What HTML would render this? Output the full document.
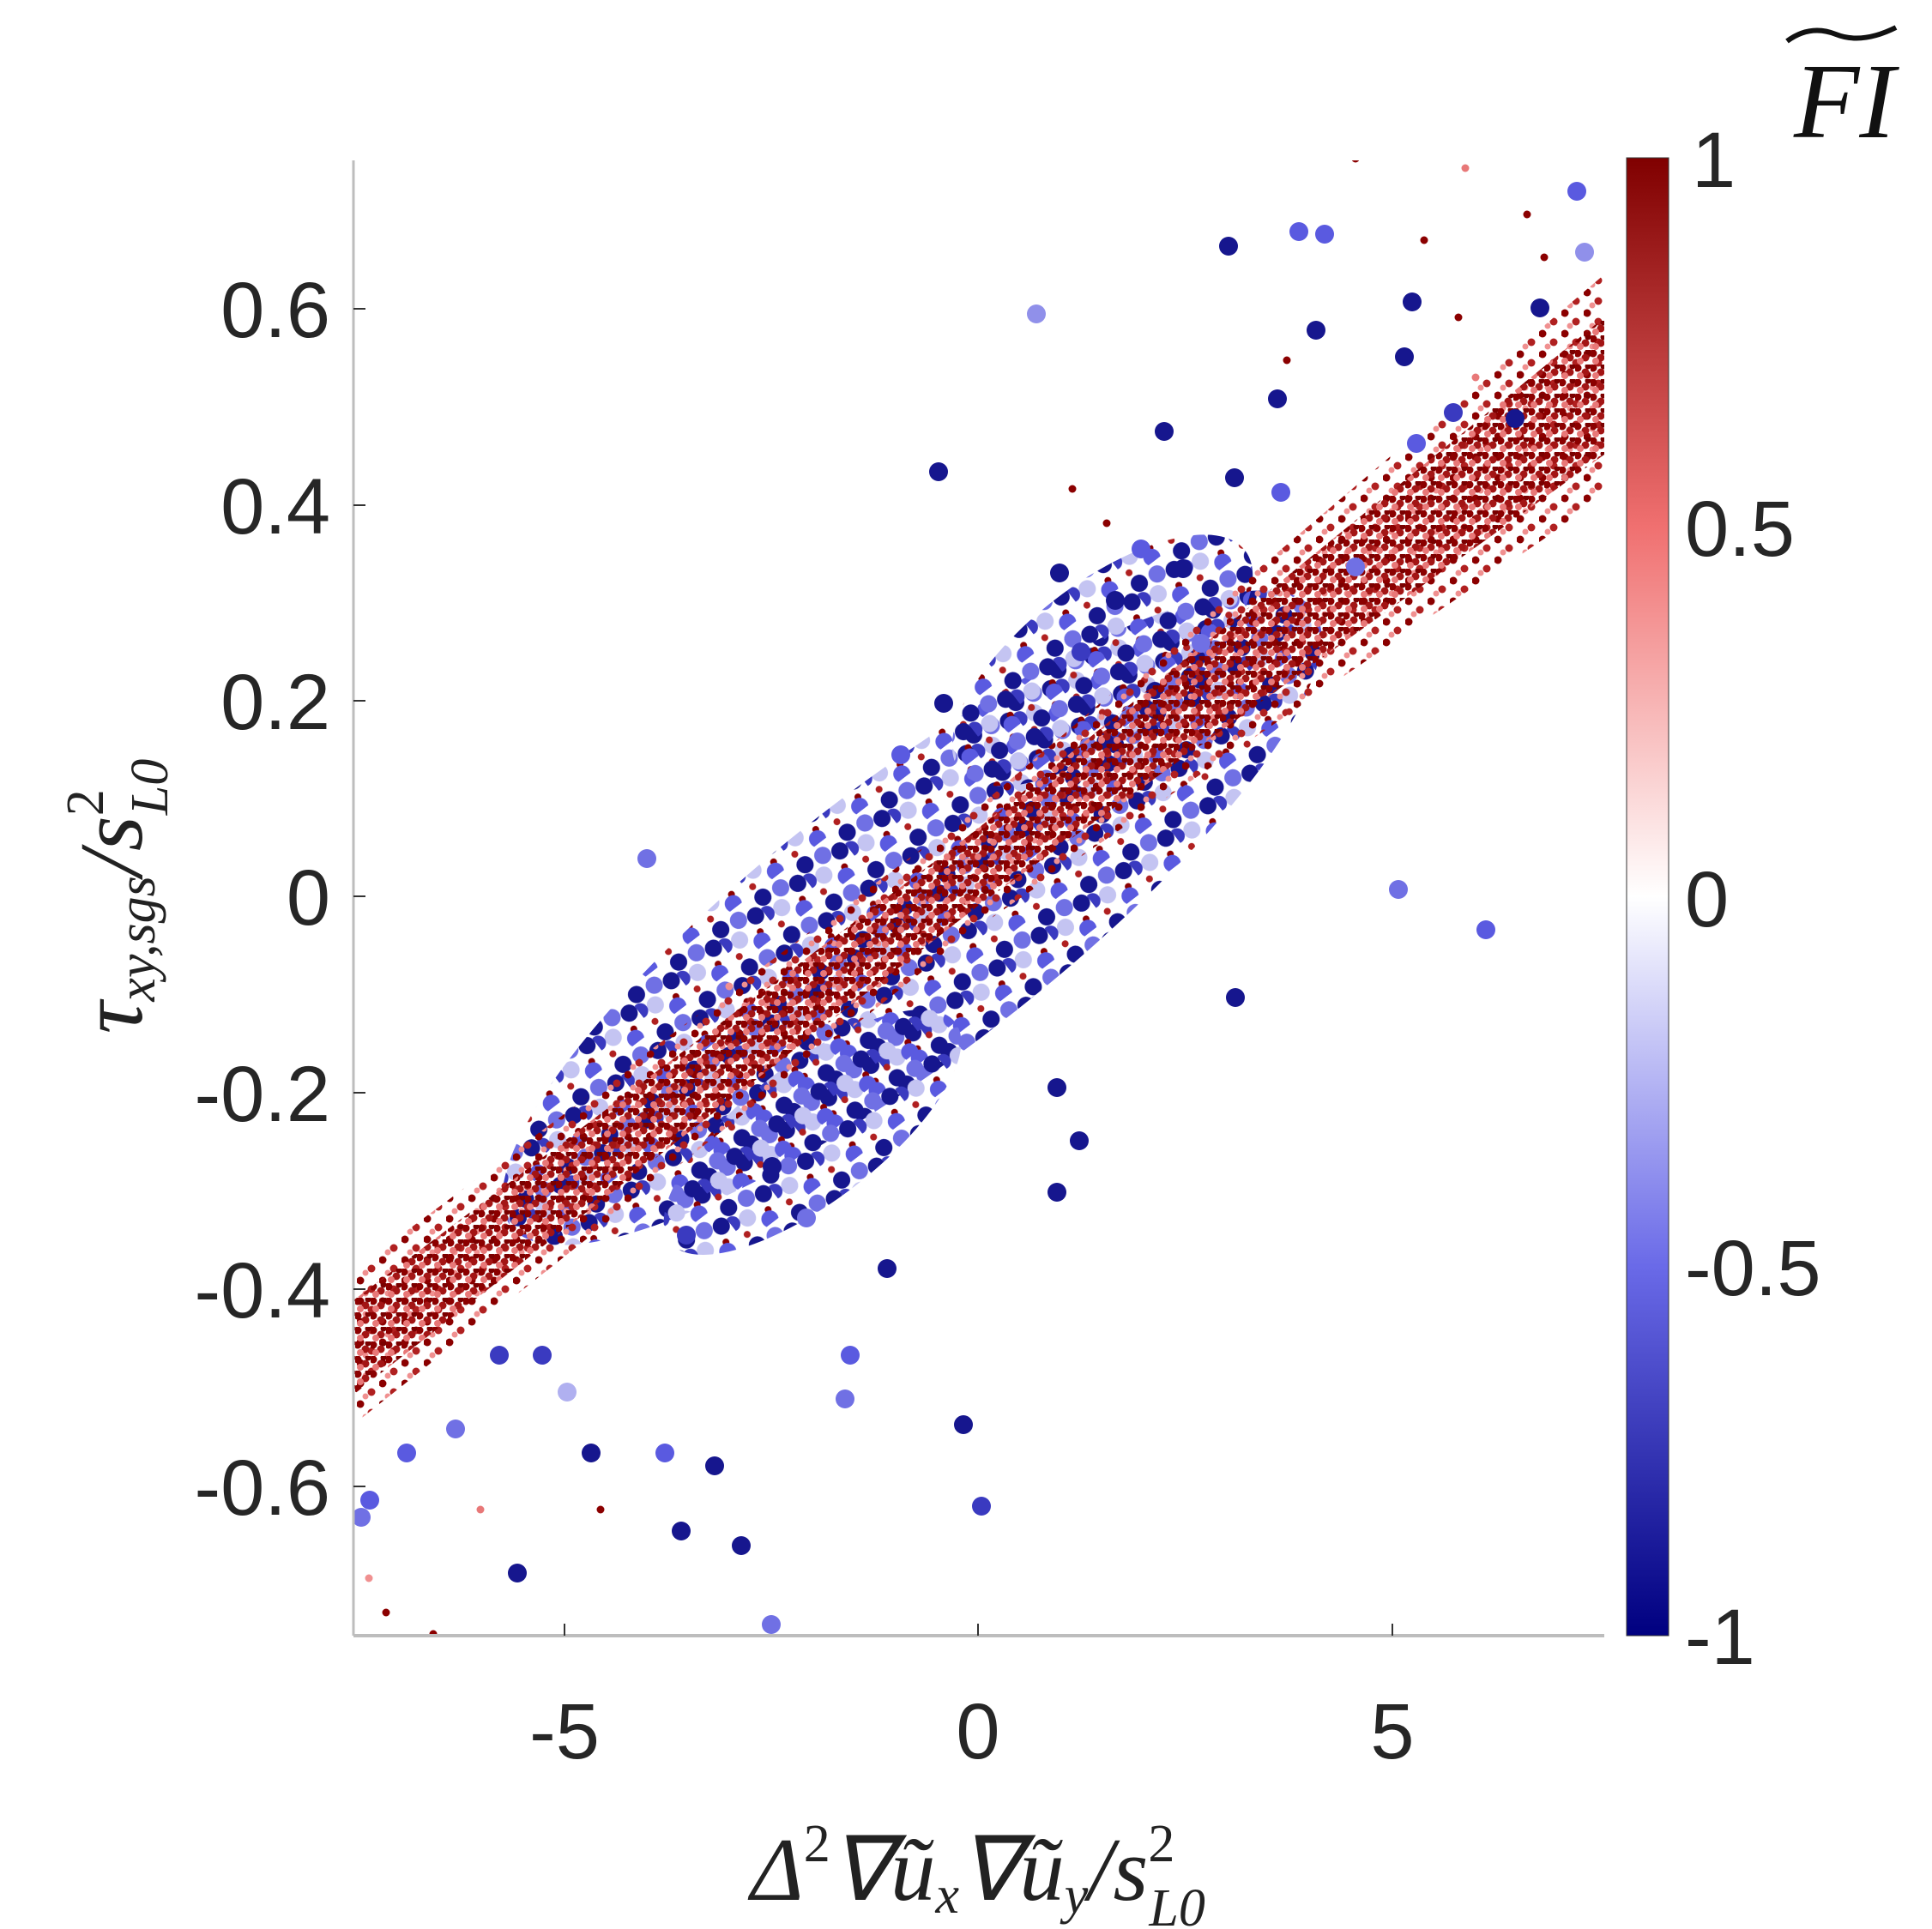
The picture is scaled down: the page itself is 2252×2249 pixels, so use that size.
<!DOCTYPE html>
<html><head><meta charset="utf-8"><style>
html,body{margin:0;padding:0;background:#fff;}
svg{display:block;}
</style></head><body>
<svg width="2252" height="2249" xmlns="http://www.w3.org/2000/svg" font-family="Liberation Sans, sans-serif">
<defs>
<linearGradient id="cb" x1="0" y1="1" x2="0" y2="0">
<stop offset="0" stop-color="#000080"/>
<stop offset="0.25" stop-color="#6a6ae8"/>
<stop offset="0.5" stop-color="#ffffff"/>
<stop offset="0.75" stop-color="#f07070"/>
<stop offset="1" stop-color="#800000"/>
</linearGradient>
<pattern id="rp" width="18" height="17" patternUnits="userSpaceOnUse">
<circle cx="3" cy="4" r="4.5" fill="#8b0000"/><circle cx="12" cy="9" r="4.5" fill="#a31515"/><circle cx="6" cy="13" r="4" fill="#e87878"/><circle cx="15" cy="2" r="3.5" fill="#7a0000"/>
</pattern>
<pattern id="rp2" width="26" height="24" patternUnits="userSpaceOnUse">
<circle cx="4" cy="5" r="4.5" fill="#8b0000"/><circle cx="17" cy="15" r="4.5" fill="#b02020"/><circle cx="10" cy="20" r="3.5" fill="#f09090"/>
</pattern>
<pattern id="bp" width="62" height="55" patternUnits="userSpaceOnUse">
<circle cx="10" cy="10" r="10" fill="#16168e"/><circle cx="33" cy="14" r="10" fill="#7070e4"/><circle cx="20" cy="33" r="10" fill="#c4c4f2"/><circle cx="45" cy="40" r="4" fill="#8b0000"/><circle cx="2" cy="28" r="9" fill="#3a3ac0"/><circle cx="52" cy="22" r="10" fill="#16168e"/><circle cx="40" cy="50" r="10" fill="#5a5ae0"/><circle cx="8" cy="48" r="4" fill="#b02020"/>
</pattern>
<clipPath id="clip"><rect x="412" y="187" width="1458" height="1720"/></clipPath>
</defs>
<g clip-path="url(#clip)">
<ellipse cx="1063" cy="1070" rx="590" ry="160" transform="rotate(-37.6 1063 1070)" fill="url(#bp)"/>
<ellipse cx="1285" cy="770" rx="210" ry="90" transform="rotate(-37.6 1285 770)" fill="url(#bp)"/>
<ellipse cx="947" cy="1320" rx="210" ry="80" transform="rotate(-37.6 947 1320)" fill="url(#bp)"/>
<polygon points="412,1481 1140,941 1870,320 1870,580 1140,1081 412,1661" fill="url(#rp2)"/>
<polygon points="412,1516 1140,966 1870,370 1870,530 1140,1056 412,1626" fill="url(#rp)"/>
<g fill="#16168e">
<circle cx="1094" cy="550" r="11"/><circle cx="1432" cy="287" r="11"/><circle cx="1514" cy="270" r="11" fill="#5a5ae0"/><circle cx="1544" cy="273" r="11" fill="#5a5ae0"/><circle cx="1646" cy="352" r="11"/><circle cx="1534" cy="385" r="11"/><circle cx="1439" cy="557" r="11"/><circle cx="1630" cy="1037" r="11" fill="#7070e4"/><circle cx="1732" cy="1084" r="11" fill="#5a5ae0"/><circle cx="1123" cy="1661" r="11"/><circle cx="1144" cy="1756" r="11" fill="#3a3ac0"/><circle cx="864" cy="1802" r="11"/><circle cx="794" cy="1785" r="11"/><circle cx="603" cy="1834" r="11"/><circle cx="899" cy="1894" r="11" fill="#7070e4"/><circle cx="431" cy="1749" r="11" fill="#5a5ae0"/><circle cx="421" cy="1769" r="11" fill="#7070e4"/><circle cx="754" cy="1001" r="11" fill="#7070e4"/><circle cx="1208" cy="366" r="11" fill="#9090ea"/><circle cx="1357" cy="503" r="11"/><circle cx="1489" cy="465" r="11"/><circle cx="1838" cy="223" r="11" fill="#5a5ae0"/><circle cx="1847" cy="294" r="11" fill="#9090ea"/><circle cx="1637" cy="416" r="11"/><circle cx="1694" cy="481" r="11" fill="#3a3ac0"/><circle cx="1379" cy="663" r="11"/><circle cx="1235" cy="668" r="11"/><circle cx="1440" cy="1163" r="11"/><circle cx="1232" cy="1268" r="11"/><circle cx="1258" cy="1330" r="11"/><circle cx="1232" cy="1390" r="11"/><circle cx="474" cy="1694" r="11" fill="#5a5ae0"/><circle cx="531" cy="1666" r="11" fill="#7070e4"/><circle cx="632" cy="1580" r="11" fill="#3a3ac0"/><circle cx="689" cy="1694" r="11"/><circle cx="775" cy="1694" r="11" fill="#5a5ae0"/><circle cx="833" cy="1709" r="11"/><circle cx="991" cy="1580" r="11" fill="#5a5ae0"/><circle cx="1034" cy="1479" r="11"/><circle cx="985" cy="1631" r="11" fill="#7070e4"/><circle cx="661" cy="1623" r="11" fill="#b0b0f0"/><circle cx="582" cy="1580" r="11" fill="#3a3ac0"/><circle cx="1651" cy="517" r="11" fill="#5a5ae0"/><circle cx="1766" cy="488" r="11"/><circle cx="1795" cy="359" r="11"/><circle cx="1580" cy="661" r="11" fill="#7070e4"/><circle cx="1493" cy="574" r="11" fill="#5a5ae0"/>
<circle cx="1300" cy="700" r="11"/><circle cx="1260" cy="760" r="11" fill="#3a3ac0"/><circle cx="1330" cy="640" r="11" fill="#5a5ae0"/><circle cx="900" cy="1360" r="11"/><circle cx="940" cy="1420" r="11" fill="#7070e4"/><circle cx="800" cy="1440" r="11" fill="#3a3ac0"/><circle cx="1400" cy="750" r="11" fill="#7070e4"/><circle cx="1100" cy="820" r="11"/><circle cx="1050" cy="880" r="11" fill="#5a5ae0"/>
</g>
<g fill="#8b0000">
<circle cx="1580" cy="185" r="4.5"/><circle cx="1708" cy="196" r="4.5" fill="#e87878"/><circle cx="1780" cy="250" r="4.5"/><circle cx="1700" cy="370" r="4.5"/><circle cx="1500" cy="420" r="4.5"/><circle cx="1720" cy="440" r="4.5" fill="#e87878"/><circle cx="450" cy="1880" r="4.5"/><circle cx="505" cy="1905" r="4.5"/><circle cx="560" cy="1760" r="4.5" fill="#e87878"/><circle cx="700" cy="1760" r="4.5"/><circle cx="850" cy="1150" r="4.5" fill="#f09090"/><circle cx="430" cy="1840" r="4.5" fill="#f09090"/><circle cx="1250" cy="570" r="4.5"/><circle cx="1290" cy="610" r="4.5"/><circle cx="1800" cy="300" r="4.5"/><circle cx="1660" cy="280" r="4.5"/>
</g>
</g>
<line x1="412" y1="187" x2="412" y2="1907" stroke="#bdbdbd" stroke-width="3"/>
<line x1="412" y1="1907" x2="1870" y2="1907" stroke="#bdbdbd" stroke-width="4"/>
<g stroke="#333" stroke-width="2">
<line x1="658" y1="1907" x2="658" y2="1893"/><line x1="1140" y1="1907" x2="1140" y2="1893"/><line x1="1623" y1="1907" x2="1623" y2="1893"/>
<line x1="412" y1="360" x2="426" y2="360"/><line x1="412" y1="589" x2="426" y2="589"/><line x1="412" y1="817" x2="426" y2="817"/><line x1="412" y1="1045" x2="426" y2="1045"/><line x1="412" y1="1274" x2="426" y2="1274"/><line x1="412" y1="1503" x2="426" y2="1503"/><line x1="412" y1="1733" x2="426" y2="1733"/>
</g>
<g font-size="92" fill="#262626" text-anchor="end">
<text x="385" y="393">0.6</text><text x="385" y="622">0.4</text><text x="385" y="850">0.2</text><text x="385" y="1078">0</text><text x="385" y="1307">-0.2</text><text x="385" y="1536">-0.4</text><text x="385" y="1766">-0.6</text>
</g>
<g font-size="92" fill="#262626" text-anchor="middle">
<text x="658" y="2050">-5</text><text x="1140" y="2050">0</text><text x="1623" y="2050">5</text>
</g>
<rect x="1896" y="184" width="49" height="1723" fill="url(#cb)" stroke="#333" stroke-width="1"/>
<g font-size="92" fill="#262626">
<text x="1972" y="218">1</text><text x="1964" y="648">0.5</text><text x="1964" y="1080">0</text><text x="1964" y="1510">-0.5</text><text x="1964" y="1940">-1</text>
</g>
<text x="2150" y="160" font-family="Liberation Serif, serif" font-style="italic" font-size="125" fill="#111" text-anchor="middle">FI</text>
<path d="M2083 48 Q2110 28 2140 40 Q2170 52 2210 32" stroke="#111" stroke-width="6" fill="none"/>
<text x="1140" y="2215" font-family="Liberation Serif, serif" font-style="italic" font-size="105" fill="#222" text-anchor="middle">Δ<tspan font-size="62" dy="-45" font-style="normal">2</tspan><tspan dy="45">∇ũ</tspan><tspan font-size="62" dy="15">x</tspan><tspan dy="-15">∇ũ</tspan><tspan font-size="62" dy="15">y</tspan><tspan dy="-15">/s</tspan><tspan font-size="62" dy="-45" font-style="normal">2</tspan><tspan font-size="62" dx="-30" dy="75">L0</tspan></text>
<text transform="translate(165,1045) rotate(-90)" font-family="Liberation Serif, serif" font-style="italic" font-size="105" fill="#222" text-anchor="middle">τ<tspan font-size="62" dy="15">xy,sgs</tspan><tspan dy="-15">/s</tspan><tspan font-size="62" dy="-45" font-style="normal">2</tspan><tspan font-size="62" dx="-30" dy="75">L0</tspan></text>
</svg>
</body></html>
